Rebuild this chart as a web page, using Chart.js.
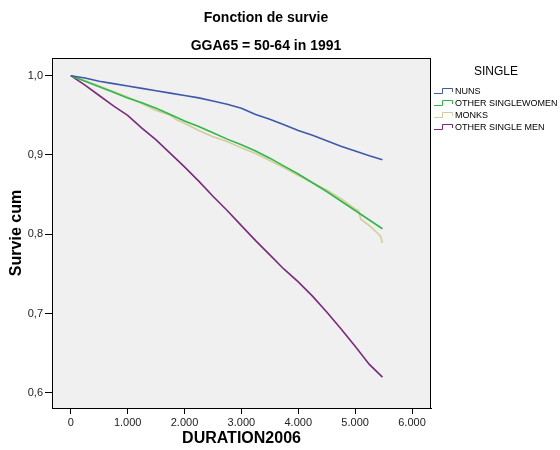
<!DOCTYPE html>
<html>
<head>
<meta charset="utf-8">
<title>Fonction de survie</title>
<script src="https://cdn.jsdelivr.net/npm/chart.js@4.4.1/dist/chart.umd.min.js"></script>
<style>
  html, body { margin: 0; padding: 0; background: #fff; }
  #wrap { width: 560px; height: 450px; }
</style>
</head>
<body>
<div id="wrap"><canvas id="survivalChart" width="560" height="450"></canvas></div>
<script>
// durée (jours) et survie cumulée
const durations = [0, 250, 500, 750, 1000, 1250, 1500, 1750, 2000, 2250, 2500, 2750, 3000,
  3250, 3500, 3750, 4000, 4250, 4500, 4750, 5000, 5250, 5480];
const nuns = [1.000, 0.997, 0.993, 0.990, 0.987, 0.984, 0.981, 0.978, 0.975, 0.972, 0.968, 0.964,
  0.959, 0.951, 0.945, 0.938, 0.931, 0.925, 0.918, 0.911, 0.905, 0.899, 0.894];
const otherWomen = [1.000, 0.993, 0.986, 0.979, 0.972, 0.966, 0.959, 0.951, 0.943, 0.936, 0.928, 0.920,
  0.913, 0.905, 0.896, 0.886, 0.876, 0.865, 0.854, 0.842, 0.830, 0.818, 0.807];
const otherMen = [1.000, 0.988, 0.975, 0.962, 0.950, 0.934, 0.919, 0.902, 0.885, 0.867, 0.848, 0.830,
  0.811, 0.792, 0.774, 0.756, 0.740, 0.722, 0.702, 0.681, 0.659, 0.636, 0.620];
const monkDurations = [0, 250, 500, 750, 1000, 1250, 1500, 1750, 1870, 2000, 2250, 2500, 2750, 3000,
  3250, 3500, 3750, 4000, 4250, 4500, 4750, 5000, 5060, 5100, 5250, 5400, 5450, 5480];
const monks = [1.000, 0.994, 0.987, 0.980, 0.973, 0.965, 0.956, 0.950, 0.944, 0.940, 0.931, 0.923,
  0.917, 0.909, 0.902, 0.893, 0.884, 0.874, 0.865, 0.856, 0.845, 0.832, 0.830, 0.819, 0.811,
  0.801, 0.797, 0.789];

const seriesNames = ["NUNS", "OTHER SINGLEWOMEN", "MONKS", "OTHER SINGLE MEN"];
const seriesColors = ["#3e58ac", "#2eb848", "#d3ce97", "#7c287d"];
const xTicks = [0, 1000, 2000, 3000, 4000, 5000, 6000];
const yTicks = [0.6, 0.7, 0.8, 0.9, 1.0];

const chartTitle = "Fonction de survie";
const chartSubtitle = "GGA65 = 50-64 in 1991";
const legendTitle = "SINGLE";
const FONT = '"Liberation Sans", Arial, sans-serif';

const toPoints = (xs, ys) => xs.map((x, i) => ({ x: x, y: ys[i] }));

// fond gris, cadre, titres et légende façon SPSS
const spssFrame = {
  id: "spssFrame",
  beforeDraw(chart) {
    const { ctx, chartArea: a } = chart;
    ctx.save();
    ctx.fillStyle = "#f0f0f0";
    ctx.fillRect(a.left, a.top, a.right - a.left, a.bottom - a.top);
    ctx.restore();
  },
  afterDraw(chart) {
    const { ctx, chartArea: a } = chart;
    ctx.save();
    ctx.strokeStyle = "#000";
    ctx.lineWidth = 1;
    ctx.strokeRect(a.left + 0.5, a.top + 0.5, a.right - a.left - 1, a.bottom - a.top);

    ctx.fillStyle = "#000";
    ctx.textAlign = "center";
    ctx.textBaseline = "middle";
    ctx.font = "bold 14px " + FONT;
    ctx.fillText(chartTitle, 266, 18);
    ctx.fillText(chartSubtitle, 266, 46);

    ctx.font = "12px " + FONT;
    ctx.fillText(legendTitle, 496, 72);

    ctx.textAlign = "left";
    ctx.font = "9px " + FONT;
    seriesNames.forEach((name, i) => {
      const y = 91 + i * 12;
      ctx.strokeStyle = seriesColors[i];
      ctx.beginPath();
      ctx.moveTo(434, y + 2.5);
      ctx.lineTo(442.5, y + 2.5);
      ctx.lineTo(442.5, y - 2.5);
      ctx.lineTo(452.5, y - 2.5);
      ctx.lineTo(452.5, y + 1);
      ctx.stroke();
      ctx.fillStyle = "#000";
      ctx.fillText(name, 455, y + 0.5);
    });
    ctx.restore();
  }
};

const seriesData = [
  toPoints(durations, nuns),
  toPoints(durations, otherWomen),
  toPoints(monkDurations, monks),
  toPoints(durations, otherMen)
];

new Chart(document.getElementById("survivalChart"), {
  type: "line",
  data: {
    datasets: seriesNames.map((name, i) => ({
      label: name,
      data: seriesData[i],
      borderColor: seriesColors[i],
      borderWidth: 1.6,
      pointRadius: 0,
      tension: 0,
      fill: false
    }))
  },
  options: {
    responsive: false,
    animation: false,
    layout: { padding: { top: 58, right: 129, left: 0, bottom: 0 } },
    plugins: {
      legend: { display: false },
      title: { display: false },
      tooltip: { enabled: false }
    },
    scales: {
      x: {
        type: "linear",
        min: -330,
        max: 6334,
        afterBuildTicks: s => { s.ticks = xTicks.map(v => ({ value: v })); },
        afterFit: s => { s.height = 42; },
        ticks: {
          color: "#222",
          padding: 2,
          maxRotation: 0,
          font: { family: FONT, size: 11 },
          callback: v => v === 0 ? "0" : (v / 1000) + ".000"
        },
        grid: { drawOnChartArea: false, drawTicks: true, tickLength: 6, color: "#000" },
        border: { display: true, color: "#000" },
        title: {
          display: true,
          text: "DURATION2006",
          color: "#000",
          padding: { top: 0, bottom: 2 },
          font: { family: FONT, size: 16, weight: "bold" }
        }
      },
      y: {
        type: "linear",
        min: 0.581,
        max: 1.0223,
        afterBuildTicks: s => { s.ticks = yTicks.map(v => ({ value: v })); },
        afterFit: s => { s.width = 52; },
        ticks: {
          color: "#222",
          padding: 2,
          font: { family: FONT, size: 11 },
          callback: v => v.toFixed(1).replace(".", ",")
        },
        grid: { drawOnChartArea: false, drawTicks: true, tickLength: 7, color: "#000" },
        border: { display: true, color: "#000" },
        title: {
          display: true,
          text: "Survie cum",
          color: "#000",
          padding: { top: 7, bottom: 0 },
          font: { family: FONT, size: 16, weight: "bold" }
        }
      }
    }
  },
  plugins: [spssFrame]
});
</script>
</body>
</html>
